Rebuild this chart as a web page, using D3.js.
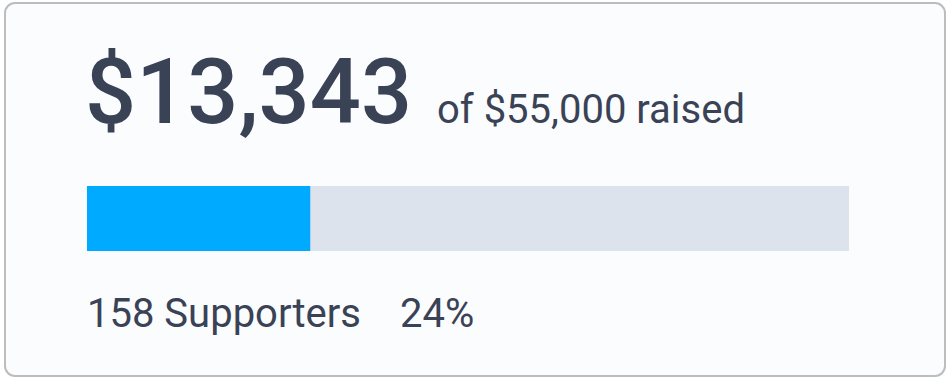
<!DOCTYPE html>
<html>
<head>
<meta charset="utf-8">
<script src="https://cdn.jsdelivr.net/npm/d3@7"></script>
<style>
  html, body { margin: 0; padding: 0; background: #ffffff; }
  svg { display: block; font-family: Roboto, "Noto Sans", sans-serif; }
</style>
</head>
<body>
<div id="chart"></div>
<script>
// values
const raised = [13343];
const goal = [55000];
const supporters = [158];
// the blue fill reaches about 29% of the track
const fillShare = [0.293];

const width = 950, height = 379;
const textColor = '#3a4256';

let svg = d3.select('#chart')
            .append('svg')
            .attr('width', width)
            .attr('height', height);

// card
svg.append('rect')
    .attr('x', 5)
    .attr('y', 3)
    .attr('width', 940)
    .attr('height', 373)
    .attr('rx', 10)
    .style('fill', '#fbfcfe')
    .style('stroke', '#bdbdbd')
    .style('stroke-width', 2);

const money = d3.format('$,');

// big amount
svg.append('text')
    .attr('x', 85)
    .attr('y', 123)
    .style('font-size', '90px')
    .style('font-weight', 500)
    .style('fill', textColor)
    .text(money(raised[0]));

svg.append('text')
    .attr('x', 437)
    .attr('y', 123)
    .style('font-size', '40px')
    .style('fill', textColor)
    .text('of ' + money(goal[0]) + ' raised');

// progress bar
const x = d3.scaleLinear().domain([0, 1]).range([87, 849]);

svg.append('rect')
    .attr('x', x(0))
    .attr('y', 186)
    .attr('width', x(1) - x(0))
    .attr('height', 65)
    .style('fill', '#dde3ec');

svg.selectAll('.fill')
    .data(fillShare)
    .enter()
    .append('rect')
    .attr('class', 'fill')
    .attr('x', x(0))
    .attr('y', 186)
    .attr('width', d => x(d) - x(0))
    .attr('height', 65)
    .style('fill', '#00aaff');

// footer
svg.append('text')
    .attr('x', 87)
    .attr('y', 327)
    .style('font-size', '40px')
    .style('fill', textColor)
    .text(supporters[0] + ' Supporters');

svg.append('text')
    .attr('x', 400)
    .attr('y', 327)
    .style('font-size', '40px')
    .style('fill', textColor)
    .text(Math.round(raised[0] / goal[0] * 100) + '%');
</script>
</body>
</html>
